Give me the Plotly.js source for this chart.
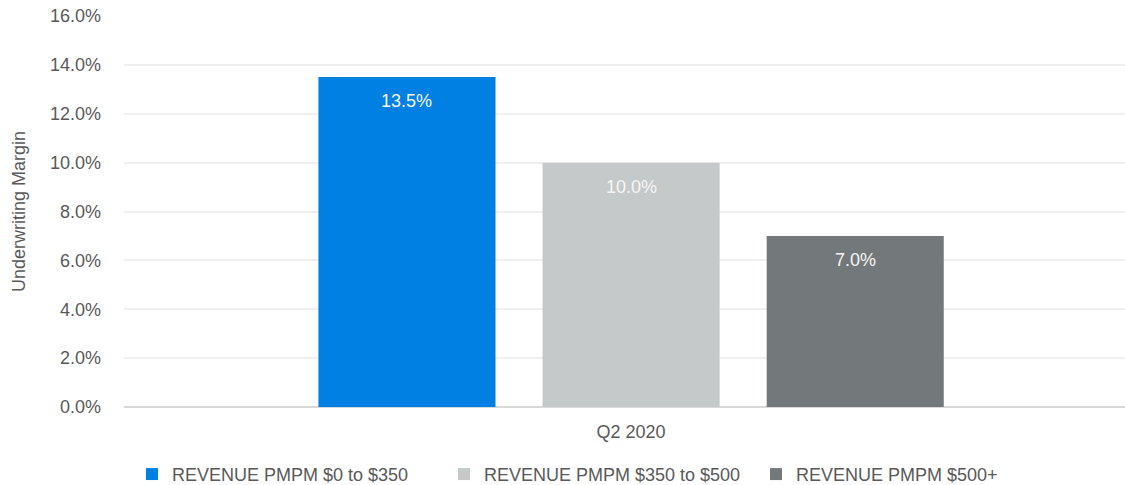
<!DOCTYPE html>
<html>
<head>
<meta charset="utf-8">
<script src="https://cdn.plot.ly/plotly-3.0.1.min.js"></script>
<style>html,body{margin:0;padding:0;background:#fff;}#chart{width:1125px;height:485px;}</style>
</head>
<body>
<div id="chart"></div>
<script>
var categories = ["Q2 2020"];
var seriesNames = ["REVENUE PMPM $0 to $350", "REVENUE PMPM $350 to $500", "REVENUE PMPM $500+"];
var seriesValues = [[0.135], [0.100], [0.070]];
var seriesColors = ["#0080E3", "#C5C9CA", "#73797B"];
var yTickVals = [0, 0.02, 0.04, 0.06, 0.08, 0.10, 0.12, 0.14, 0.16];
var yTickText = ["0.0%", "2.0%", "4.0%", "6.0%", "8.0%", "10.0%", "12.0%", "14.0%", "16.0%"];

var font = "Liberation Sans, Arial, sans-serif";
var BARGAP = 0.337;
var traces = seriesNames.map(function (name, i) {
  return {
    type: "bar",
    name: name,
    x: categories,
    y: seriesValues[i],
    marker: {color: seriesColors[i]},
    hoverinfo: "none"
  };
});

// data labels, placed on each bar of the group (offsets derived from bargap)
var annotations = [];
var n = seriesNames.length;
seriesValues.forEach(function (vals, i) {
  vals.forEach(function (v, j) {
    annotations.push({
      xref: "x", yref: "y",
      x: j + (i - (n - 1) / 2) * (1 - BARGAP) / n,
      y: v, yshift: -24, yanchor: "middle", xanchor: "center",
      text: (v * 100).toFixed(1) + "%",
      showarrow: false,
      font: {family: font, size: 18, color: "#F5F5F5"}
    });
  });
});

var layout = {
  width: 1125, height: 485,
  margin: {l: 124, r: 0, t: 16, b: 78, pad: 0, autoexpand: false},
  paper_bgcolor: "#fff", plot_bgcolor: "#fff",
  font: {family: font, size: 18, color: "#595959"},
  barmode: "group",
  bargap: BARGAP,
  bargroupgap: 0.21,
  showlegend: true,
  annotations: annotations,
  legend: {orientation: "h", x: 0.008, xanchor: "left", y: -0.125, yanchor: "top",
           font: {family: font, size: 18, color: "#595959"}, itemwidth: 30, traceorder: "normal",
           entrywidth: 267, entrywidthmode: "pixels"},
  xaxis: {type: "category", range: [-0.5, 0.487], showgrid: false, zeroline: false,
          showline: false, ticks: "", ticklabelstandoff: 12,
          tickfont: {family: font, size: 18, color: "#595959"}},
  yaxis: {range: [0, 0.16], tickvals: yTickVals, ticktext: yTickText,
          showgrid: true, gridcolor: "#F0F0F0", gridwidth: 2,
          zeroline: true, zerolinecolor: "#D9D9D9", zerolinewidth: 2,
          showline: false, ticks: "", ticklabelstandoff: 22,
          tickfont: {family: font, size: 18, color: "#595959"},
          title: {text: "Underwriting Margin", font: {family: font, size: 18, color: "#595959"}, standoff: 19}}
};

Plotly.newPlot("chart", traces, layout, {displayModeBar: false, staticPlot: true});
</script>
</body>
</html>
